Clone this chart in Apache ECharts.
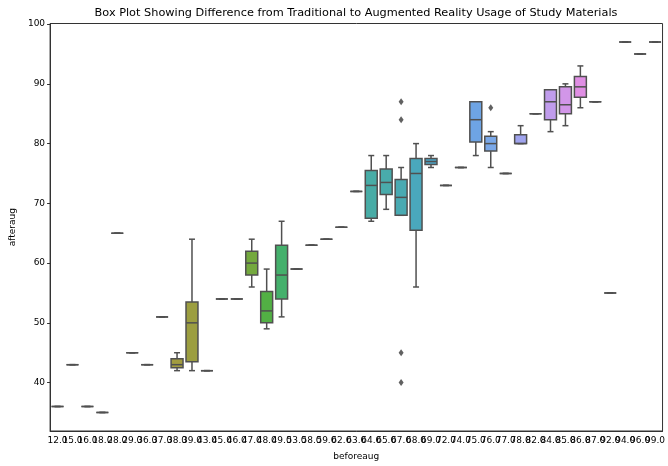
<!DOCTYPE html>
<html>
<head>
<meta charset="utf-8">
<script src="https://cdn.jsdelivr.net/npm/echarts@6/dist/echarts.min.js"></script>
<style>
  html, body { margin: 0; padding: 0; background: #fff; }
  #chart { width: 668px; height: 466px; }
</style>
</head>
<body>
<div id="chart"></div>
<script>
// x categories (beforeaug)
const categories = ['12.0', '15.0', '16.0', '18.0', '28.0', '29.0', '36.0', '37.0', '38.0', '39.0',
  '43.0', '45.0', '46.0', '47.0', '48.0', '49.0', '53.0', '58.0', '59.0', '62.0', '63.0', '64.0',
  '65.0', '67.0', '68.0', '69.0', '72.0', '74.0', '75.0', '76.0', '77.0', '78.0', '82.0', '84.0',
  '85.0', '86.0', '87.0', '92.0', '94.0', '96.0', '99.0'];

// [lower whisker, Q1, median, Q3, upper whisker] of afteraug
const boxStats = [
  [36, 36, 36, 36, 36], [43, 43, 43, 43, 43], [36, 36, 36, 36, 36], [35, 35, 35, 35, 35],
  [65, 65, 65, 65, 65], [45, 45, 45, 45, 45], [43, 43, 43, 43, 43], [51, 51, 51, 51, 51],
  [42, 42.5, 43, 44, 45], [42, 43.5, 50, 53.5, 64], [42, 42, 42, 42, 42], [54, 54, 54, 54, 54],
  [54, 54, 54, 54, 54], [56, 58, 60, 62, 64], [49, 50, 52, 55.25, 59], [51, 54, 58, 63, 67],
  [59, 59, 59, 59, 59], [63, 63, 63, 63, 63], [64, 64, 64, 64, 64], [66, 66, 66, 66, 66],
  [72, 72, 72, 72, 72], [67, 67.5, 73, 75.5, 78], [69, 71.5, 73.5, 75.75, 78], [68, 68, 71, 74, 76],
  [56, 65.5, 75, 77.5, 80], [76, 76.5, 77, 77.5, 78], [73, 73, 73, 73, 73], [76, 76, 76, 76, 76],
  [78, 80.25, 84, 87, 87], [76, 78.75, 80, 81.25, 82], [75, 75, 75, 75, 75], [80, 80, 80, 81.5, 83],
  [85, 85, 85, 85, 85], [82, 84, 87, 89, 89], [83, 85, 86.5, 89.5, 90], [86, 87.75, 89.5, 91.25, 93],
  [87, 87, 87, 87, 87], [55, 55, 55, 55, 55], [97, 97, 97, 97, 97], [95, 95, 95, 95, 95],
  [97, 97, 97, 97, 97]
];

// fliers: [category, value]
const outliers = [['67.0', 87], ['67.0', 84], ['67.0', 45], ['67.0', 40], ['76.0', 86]];

const yTicks = [40, 50, 60, 70, 80, 90, 100];

const palette = ['#e0787e', '#dd7c6a', '#d8805a', '#d0854a', '#c68a44', '#bd8f41', '#b39440',
  '#aa9840', '#a29c40', '#9c9e40', '#91a340', '#86a640', '#7ca93f', '#74a93e', '#52b044',
  '#44b06c', '#44b07e', '#45af8a', '#46ae94', '#47ad9c', '#48ada2', '#48aca6', '#49abab',
  '#49aab2', '#4aa8bc', '#4ba4c6', '#50a0d2', '#5e9fdc', '#6ea4e4', '#7aa8e8', '#8ea8e8',
  '#a0a4ee', '#b4a0ee', '#c09cec', '#d296e8', '#e08ee4', '#e888dc', '#ec84cc', '#ee82bc',
  '#ee80aa', '#ea7e96'];

const edge = '#505050';
const font = 'DejaVu Sans';

function renderBox(params, api) {
  const i = api.value(0);
  const lo = api.coord([i, api.value(1)]);
  const q1 = api.coord([i, api.value(2)]);
  const md = api.coord([i, api.value(3)]);
  const q3 = api.coord([i, api.value(4)]);
  const hi = api.coord([i, api.value(5)]);
  const w = api.size([1, 0])[0] * 0.8;
  const x = lo[0];
  const cap = w / 4;
  const line = { stroke: edge, lineWidth: 1.5 };
  return {
    type: 'group',
    children: [
      { type: 'line', shape: { x1: x, y1: q3[1], x2: x, y2: hi[1] }, style: line },
      { type: 'line', shape: { x1: x, y1: q1[1], x2: x, y2: lo[1] }, style: line },
      { type: 'line', shape: { x1: x - cap, y1: hi[1], x2: x + cap, y2: hi[1] }, style: line },
      { type: 'line', shape: { x1: x - cap, y1: lo[1], x2: x + cap, y2: lo[1] }, style: line },
      { type: 'rect', shape: { x: x - w / 2, y: q3[1], width: w, height: q1[1] - q3[1] },
        style: { fill: palette[i], stroke: edge, lineWidth: 1.5 } },
      { type: 'line', shape: { x1: x - w / 2, y1: md[1], x2: x + w / 2, y2: md[1] }, style: line }
    ]
  };
}

const chart = echarts.init(document.getElementById('chart'));
chart.setOption({
  animation: false,
  backgroundColor: '#fff',
  graphic: [{
    type: 'text', x: 356, y: 13,
    style: {
      text: 'Box Plot Showing Difference from Traditional to Augmented Reality Usage of Study Materials',
      font: '11.3px "DejaVu Sans"', fill: '#000', textAlign: 'center', textVerticalAlign: 'middle'
    }
  }],
  grid: { left: 46.5, right: 2, top: 23.5, bottom: 32, show: true, borderColor: '#333', borderWidth: 1 },
  xAxis: {
    type: 'category',
    data: categories,
    name: 'beforeaug',
    nameLocation: 'middle',
    nameGap: 21,
    nameTextStyle: { fontFamily: font, fontSize: 9, color: '#000' },
    axisLine: { lineStyle: { color: '#333' } },
    axisTick: { alignWithLabel: true, length: 3, lineStyle: { color: '#333' } },
    axisLabel: { interval: 0, fontFamily: font, fontSize: 9, color: '#000', margin: 5 },
    splitLine: { show: false }
  },
  yAxis: {
    type: 'value',
    min: 31.9,
    max: 100.1,
    name: 'afteraug',
    nameLocation: 'middle',
    nameGap: 31,
    nameTextStyle: { fontFamily: font, fontSize: 9, color: '#000' },
    axisLine: { show: true, lineStyle: { color: '#333' } },
    axisTick: { show: true, length: 3, customValues: yTicks, lineStyle: { color: '#333' } },
    axisLabel: { fontFamily: font, fontSize: 9, color: '#000', margin: 5, customValues: yTicks },
    splitLine: { show: false }
  },
  series: [
    {
      type: 'custom',
      renderItem: renderBox,
      encode: { x: 0, y: [1, 2, 3, 4, 5] },
      data: boxStats.map((s, i) => [i].concat(s))
    },
    {
      type: 'scatter',
      symbol: 'diamond',
      symbolSize: [5, 7],
      itemStyle: { color: '#3a3a3a' },
      data: outliers
    }
  ]
});
</script>
</body>
</html>
